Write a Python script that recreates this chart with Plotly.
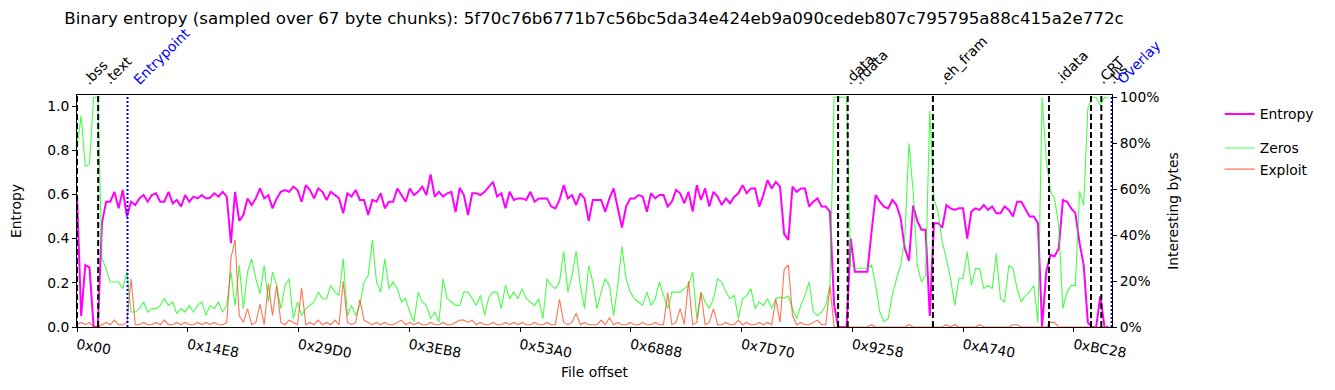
import plotly.graph_objects as go

CHUNK = 67
STRIDE = 3 * CHUNK  # one value kept for every 3 chunks
X_MAX = 50010
SHA = "5f70c76b6771b7c56bc5da34e424eb9a090cedeb807c795795a88c415a2e772c"

entropy = [
    0.60, 0.05, 0.28, 0.27, 0.0, 0.0, 0.47, 0.567, 0.567, 0.612,
    0.537, 0.62, 0.50, 0.567, 0.552, 0.582, 0.597, 0.567, 0.597, 0.605,
    0.567, 0.567, 0.612, 0.56, 0.575, 0.545, 0.597, 0.567, 0.59, 0.582,
    0.597, 0.582, 0.585, 0.605, 0.59, 0.612, 0.59, 0.38, 0.612, 0.48,
    0.507, 0.582, 0.552, 0.582, 0.627, 0.582, 0.597, 0.537, 0.582, 0.612,
    0.62, 0.612, 0.635, 0.62, 0.567, 0.642, 0.62, 0.582, 0.627, 0.612,
    0.575, 0.612, 0.597, 0.582, 0.515, 0.605, 0.59, 0.62, 0.575, 0.575,
    0.507, 0.575, 0.567, 0.605, 0.537, 0.567, 0.567, 0.627, 0.597, 0.567,
    0.627, 0.597, 0.612, 0.635, 0.597, 0.69, 0.59, 0.612, 0.59, 0.605,
    0.612, 0.52, 0.63, 0.597, 0.507, 0.605, 0.605, 0.597, 0.612, 0.635,
    0.657, 0.59, 0.605, 0.537, 0.612, 0.575, 0.582, 0.582, 0.575, 0.612,
    0.567, 0.582, 0.582, 0.582, 0.545, 0.537, 0.575, 0.642, 0.582, 0.597,
    0.552, 0.605, 0.582, 0.48, 0.575, 0.575, 0.575, 0.522, 0.582, 0.627,
    0.53, 0.45, 0.545, 0.582, 0.582, 0.597, 0.59, 0.522, 0.605, 0.582,
    0.597, 0.597, 0.545, 0.567, 0.62, 0.605, 0.56, 0.612, 0.522, 0.642,
    0.575, 0.627, 0.545, 0.612, 0.59, 0.552, 0.582, 0.56, 0.59, 0.605,
    0.642, 0.605, 0.627, 0.627, 0.545, 0.597, 0.665, 0.627, 0.657, 0.635,
    0.42, 0.394, 0.635, 0.612, 0.627, 0.627, 0.545, 0.567, 0.582, 0.545,
    0.545, 0.522, 0.10, 0.0, 0.0, 0.0, 0.40, 0.25, 0.25, 0.25,
    0.25, 0.43, 0.597, 0.567, 0.545, 0.537, 0.575, 0.552, 0.492, 0.356,
    0.30, 0.55, 0.48, 0.44, 0.44, 0.05, 0.47, 0.47, 0.45, 0.552,
    0.537, 0.53, 0.537, 0.537, 0.40, 0.522, 0.537, 0.53, 0.552, 0.53,
    0.545, 0.515, 0.515, 0.545, 0.53, 0.50, 0.567, 0.567, 0.53, 0.50,
    0.50, 0.47, 0.0, 0.25, 0.326, 0.32, 0.355, 0.575, 0.567, 0.537,
    0.515, 0.38, 0.28, 0.02, 0.0, 0.0, 0.14, 0.0, 0.0,
]

zeros = [
    0.78, 0.92, 0.70, 0.71, 1.0, 1.0, 0.30, 0.254, 0.196, 0.196,
    0.196, 0.167, 0.24, 0.065, 0.065, 0.08, 0.109, 0.065, 0.08, 0.08,
    0.094, 0.123, 0.094, 0.109, 0.058, 0.08, 0.065, 0.094, 0.065, 0.094,
    0.109, 0.051, 0.094, 0.08, 0.109, 0.065, 0.094, 0.24, 0.094, 0.27,
    0.08, 0.24, 0.297, 0.21, 0.145, 0.268, 0.109, 0.24, 0.181, 0.08,
    0.181, 0.21, 0.036, 0.109, 0.05, 0.08, 0.094, 0.109, 0.152, 0.123,
    0.123, 0.181, 0.152, 0.138, 0.297, 0.05, 0.094, 0.05, 0.094, 0.196,
    0.225, 0.38, 0.196, 0.152, 0.297, 0.167, 0.196, 0.167, 0.109, 0.123,
    0.065, 0.022, 0.152, 0.109, 0.094, 0.036, 0.065, 0.022, 0.21, 0.123,
    0.109, 0.094, 0.094, 0.152, 0.152, 0.123, 0.094, 0.138, 0.05, 0.13,
    0.152, 0.152, 0.08, 0.181, 0.123, 0.152, 0.123, 0.167, 0.123, 0.109,
    0.094, 0.123, 0.036, 0.21, 0.181, 0.167, 0.196, 0.33, 0.152, 0.225,
    0.33, 0.181, 0.08, 0.268, 0.196, 0.08, 0.152, 0.21, 0.181, 0.05,
    0.181, 0.35, 0.21, 0.152, 0.123, 0.109, 0.094, 0.152, 0.094, 0.123,
    0.196, 0.138, 0.08, 0.152, 0.152, 0.152, 0.167, 0.181, 0.24, 0.036,
    0.152, 0.109, 0.08, 0.123, 0.21, 0.196, 0.152, 0.123, 0.138, 0.036,
    0.123, 0.138, 0.167, 0.08, 0.109, 0.094, 0.123, 0.08, 0.123, 0.13,
    0.126, 0.135, 0.08, 0.036, 0.094, 0.138, 0.196, 0.065, 0.05, 0.065,
    0.094, 0.181, 1.0, 1.0, 1.0, 1.0, 0.27, 0.256, 0.256, 0.256,
    0.256, 0.27, 0.181, 0.065, 0.022, 0.036, 0.138, 0.21, 0.268, 0.384,
    0.80, 0.59, 0.268, 0.196, 0.225, 0.94, 0.56, 0.50, 0.37, 0.297,
    0.21, 0.094, 0.21, 0.21, 0.326, 0.181, 0.254, 0.254, 0.167, 0.181,
    0.167, 0.32, 0.123, 0.109, 0.268, 0.254, 0.167, 0.109, 0.138, 0.152,
    0.181, 0.02, 1.0, 0.73, 0.59, 0.56, 0.44, 0.08, 0.152, 0.181,
    0.181, 0.59, 0.53, 0.95, 1.0, 1.0, 0.965, 1.0, 1.0,
]

exploit = [
    0.01, 0.02, 0.01, 0.02, 0.0, 0.0, 0.01, 0.02, 0.01, 0.03,
    0.01, 0.01, 0.02, 0.21, 0.01, 0.01, 0.02, 0.01, 0.01, 0.02,
    0.01, 0.03, 0.01, 0.01, 0.02, 0.01, 0.02, 0.01, 0.01, 0.02,
    0.01, 0.02, 0.01, 0.02, 0.01, 0.01, 0.02, 0.30, 0.38, 0.05,
    0.02, 0.08, 0.01, 0.02, 0.10, 0.01, 0.19, 0.05, 0.18, 0.02,
    0.01, 0.03, 0.02, 0.01, 0.17, 0.01, 0.02, 0.01, 0.03, 0.01,
    0.02, 0.01, 0.03, 0.01, 0.20, 0.02, 0.01, 0.02, 0.12, 0.03,
    0.02, 0.01, 0.02, 0.01, 0.02, 0.01, 0.01, 0.02, 0.03, 0.01,
    0.02, 0.01, 0.02, 0.01, 0.01, 0.02, 0.01, 0.01, 0.02, 0.01,
    0.01, 0.02, 0.03, 0.03, 0.02, 0.03, 0.01, 0.02, 0.01, 0.01,
    0.02, 0.01, 0.01, 0.02, 0.01, 0.02, 0.01, 0.02, 0.01, 0.01,
    0.02, 0.01, 0.01, 0.02, 0.01, 0.01, 0.12, 0.02, 0.01, 0.02,
    0.06, 0.01, 0.02, 0.01, 0.01, 0.01, 0.03, 0.01, 0.04, 0.01,
    0.02, 0.01, 0.01, 0.02, 0.01, 0.01, 0.02, 0.01, 0.01, 0.02,
    0.01, 0.01, 0.15, 0.01, 0.02, 0.08, 0.01, 0.20, 0.01, 0.02,
    0.15, 0.01, 0.02, 0.08, 0.01, 0.01, 0.02, 0.01, 0.01, 0.03,
    0.01, 0.02, 0.01, 0.01, 0.02, 0.01, 0.02, 0.01, 0.12, 0.02,
    0.25, 0.27, 0.05, 0.01, 0.02, 0.01, 0.01, 0.02, 0.03, 0.01,
    0.01, 0.18, 0.0, 0.0, 0.0, 0.0, 0.0, 0.0, 0.0, 0.0,
    0.0, 0.01, 0.0, 0.0, 0.0, 0.0, 0.0, 0.0, 0.0, 0.0,
    0.01, 0.0, 0.0, 0.0, 0.0, 0.0, 0.0, 0.0, 0.0, 0.01,
    0.0, 0.01, 0.0, 0.0, 0.0, 0.0, 0.0, 0.01, 0.0, 0.0,
    0.0, 0.0, 0.0, 0.0, 0.0, 0.01, 0.01, 0.0, 0.0, 0.0,
    0.0, 0.0, 0.0, 0.0, 0.02, 0.02, 0.0, 0.0, 0.0, 0.0,
    0.0, 0.0, 0.0, 0.0, 0.0, 0.0, 0.0, 0.0, 0.0,
]

tick_labels = ["0x00", "0x14E8", "0x29D0", "0x3EB8", "0x53A0",
               "0x6888", "0x7D70", "0x9258", "0xA740", "0xBC28"]

section_names = [".bss", ".text", ".data", ".rdata", ".eh_fram", ".idata", ".CRT", ".tls"]
section_offsets = [0, 1024, 36775, 37240, 41356, 46965, 48995, 49494]
marker_names = ["Entrypoint", "Overlay"]
marker_offsets = [2440, 49990]

offsets = [i * STRIDE for i in range(len(entropy))]

FONT = "DejaVu Sans"
FS = 13.89
fig = go.Figure()
fig.add_trace(go.Scatter(x=offsets, y=entropy, mode="lines", name="Entropy",
                         line=dict(color="#ff00ff", width=2), legendgroup="a",
                         yaxis="y"))
fig.add_trace(go.Scatter(x=offsets, y=zeros, mode="lines", name="Zeros",
                         line=dict(color="rgba(0,255,0,0.72)", width=1.1), legendgroup="b",
                         yaxis="y2"))
fig.add_trace(go.Scatter(x=offsets, y=exploit, mode="lines", name="Exploit",
                         line=dict(color="rgba(255,69,30,0.75)", width=1.1), legendgroup="b",
                         yaxis="y2"))

shapes = []
annotations = []
for name, off in zip(section_names, section_offsets):
    shapes.append(dict(type="line", xref="x", yref="paper", x0=off, x1=off, y0=0, y1=1,
                       line=dict(color="black", width=2, dash="6px,3px"), layer="above"))
    annotations.append(dict(x=off, y=1, xref="x", yref="paper", text=name, showarrow=False,
                            textangle=-45, xanchor="left", yanchor="bottom", yshift=5,
                            font=dict(family=FONT, size=FS, color="black")))
for name, off in zip(marker_names, marker_offsets):
    shapes.append(dict(type="line", xref="x", yref="paper", x0=off, x1=off, y0=0, y1=1,
                       line=dict(color="blue", width=2, dash="2px,2px"), layer="above"))
    annotations.append(dict(x=off, y=1, xref="x", yref="paper", text=name, showarrow=False,
                            textangle=-45, xanchor="left", yanchor="bottom", yshift=5,
                            font=dict(family=FONT, size=FS, color="blue")))

axis_common = dict(showline=True, linecolor="black", linewidth=1, ticks="outside",
                   ticklen=4, tickcolor="black", showgrid=False, zeroline=False,
                   tickfont=dict(family=FONT, size=FS, color="black"))

fig.update_layout(
    width=1335, height=390,
    margin=dict(l=77, r=223, t=95, b=63),
    paper_bgcolor="white", plot_bgcolor="white",
    font=dict(family=FONT, size=FS, color="black"),
    title=dict(text="Binary entropy (sampled over 67 byte chunks): " + SHA,
               x=594 / 1335, xref="container", xanchor="center",
               y=1 - 18 / 390, yref="container", yanchor="middle",
               font=dict(family=FONT, size=16.67, color="black")),
    xaxis=dict(range=[0, X_MAX], tickvals=[int(t, 16) for t in tick_labels],
               ticktext=tick_labels, tickangle=10, mirror=True,
               title=dict(text="File offset", standoff=7,
                          font=dict(family=FONT, size=FS)),
               **axis_common),
    yaxis=dict(range=[0, 1.05], tickvals=[0, 0.2, 0.4, 0.6, 0.8, 1.0],
               ticktext=["0.0", "0.2", "0.4", "0.6", "0.8", "1.0"],
               title=dict(text="Entropy", standoff=22, font=dict(family=FONT, size=FS)),
               **axis_common),
    yaxis2=dict(range=[0, 1.01], overlaying="y", side="right",
                tickvals=[0, 0.2, 0.4, 0.6, 0.8, 1.0], tickformat=".0%",
                title=dict(text="Interesting bytes", standoff=9,
                           font=dict(family=FONT, size=FS)),
                **axis_common),
    legend=dict(x=1.104, xref="paper", y=0.985, yanchor="top", xanchor="left",
                traceorder="grouped", tracegroupgap=13,
                font=dict(family=FONT, size=FS, color="black"),
                bgcolor="rgba(0,0,0,0)"),
    shapes=shapes, annotations=annotations,
)

fig.write_html("out.html", config={"displayModeBar": False},
               post_script="document.body.style.margin='0px';")
